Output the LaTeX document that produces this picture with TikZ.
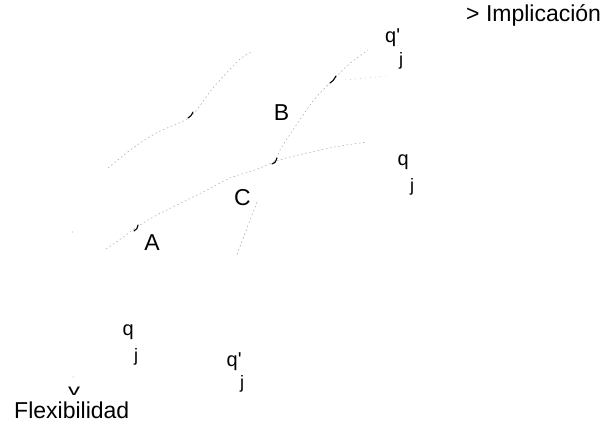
\documentclass[tikz,border=0pt]{standalone}
\usepackage{fontspec}
\setmainfont{Liberation Sans}[Ligatures=TeXOff]
\begin{document}
\begin{tikzpicture}[x=1pt,y=-1pt,
  curve/.style={gray!60,line width=0.6pt,dash pattern=on 1.6pt off 2.6pt},
  faint/.style={gray!45,line width=0.5pt,dash pattern=on 1pt off 4pt},
  tick/.style={black,line width=1.1pt,line cap=round},
  lbl/.style={inner sep=0pt,anchor=base,font=\fontsize{23}{23}\selectfont},
  qlbl/.style={inner sep=0pt,anchor=base west,font=\fontsize{20}{20}\selectfont},
  jlbl/.style={inner sep=0pt,anchor=base,font=\fontsize{18}{18}\selectfont},
  axlbl/.style={inner sep=0pt,anchor=base west,font=\fontsize{23}{23}\selectfont}]
\useasboundingbox (0,0) rectangle (616,428);
% named points
\coordinate (pA) at (137,227);
\coordinate (pJ) at (274,162);
\coordinate (pU) at (190,117);
\coordinate (pB) at (333,80);
% upper-left curve
\draw[curve] plot[smooth] coordinates {(108,168) (133,148) (158,132) (pU) (213,88) (239,60) (252,52)};
% lower curve through A and the junction
\draw[curve] plot[smooth] coordinates {(106,249) (122,238) (pA) (157,215) (187,200) (207,190) (230,178) (255,170) (pJ) (290,157) (316,151) (340,146) (367,142)};
% B curve from junction up to q'
\draw[curve] plot[smooth] coordinates {(pJ) (283,145) (295,127) (310,105) (320,93) (pB) (348,65) (368,50)};
% short faint segment towards q'
\draw[faint] (345,80) -- (387,76);
% line below C
\draw[curve] (257,202) -- (236,257);
% dark marks
\draw[tick] (134,231) .. controls (137,229) .. (138,225);
\draw[tick] (188,118) .. controls (191,116) .. (193,112);
\draw[tick] (272,164) .. controls (275,163) .. (277,158);
\draw[tick] (330,83) .. controls (333,81) .. (336,76);
% faint axis remnants
\fill[gray!50] (72.5,232) circle (0.7pt);
\fill[gray!50] (73,377) circle (0.7pt);
% point labels
\node[lbl] (A) at (152,250) {A};
\node[lbl] (B) at (281.5,121) {B};
\node[lbl] (C) at (242.5,205) {C};
% q labels
\node[qlbl] (q1) at (385,43) {q'};
\node[jlbl] (j1) at (401,66) {j};
\node[qlbl] (q2) at (397.5,165.5) {q};
\node[jlbl] (j2) at (412,191) {j};
\node[qlbl] (q3) at (122.5,335) {q};
\node[jlbl] (j3) at (136,361) {j};
\node[qlbl] (q4) at (226.5,366) {q'};
\node[jlbl] (j4) at (242,388) {j};
% axis labels
\node[axlbl] (impl) at (466,22) {> Implicación};
\node[inner sep=0pt,anchor=base,font=\fontsize{16}{16}\selectfont] (vv) at (74,395) {\scalebox{1.5}[1]{v}};
\node[axlbl] (flex) at (14,418) {Flexibilidad};
\end{tikzpicture}
\end{document}
